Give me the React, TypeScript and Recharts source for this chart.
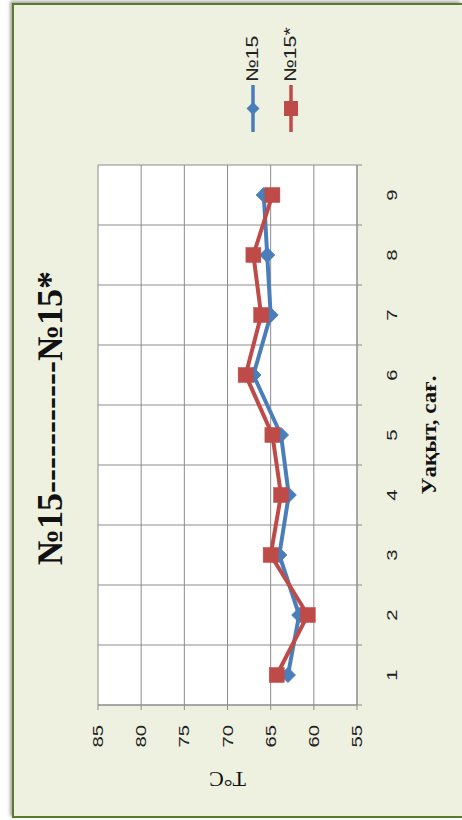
import React from 'react';
import { LineChart, Line, XAxis, YAxis, CartesianGrid, Legend, ReferenceLine } from 'recharts';

const hours = [1, 2, 3, 4, 5, 6, 7, 8, 9];
const hourEdges = [0.5, 1.5, 2.5, 3.5, 4.5, 5.5, 6.5, 7.5, 8.5, 9.5];
const series15 = [63.0, 61.7, 64.0, 62.9, 63.8, 67.0, 65.0, 65.4, 65.8];
const series15star = [64.3, 60.7, 65.0, 63.8, 64.8, 67.9, 66.1, 67.0, 64.8];
const tempTicks = [55, 60, 65, 70, 75, 80, 85];
const seriesNames = ['№15', '№15*'];
const titleText = '№15-----------№15*';
const xTitle = 'Уақыт, сағ.';
const yTitle = 'T°C';

const BLUE = '#4a7ebb';
const RED = '#be4b48';
const GRID = '#8c8c8c';
const TEXT = '#222';

const data = hours.map((h, i) => ({ h, a: series15[i], b: series15star[i] }));

const YTick = (p: any) => (
  <g transform={`translate(${p.x},${p.y}) scale(1.35,1)`}>
    <text textAnchor="end" dominantBaseline="central" fontSize={15} fontFamily="Liberation Sans" fill={TEXT}>
      {p.payload.value}
    </text>
  </g>
);

const XTick = (p: any) => (
  <g transform={`translate(${p.x},${p.y + 34}) scale(1.35,1)`}>
    <text textAnchor="middle" dominantBaseline="central" fontSize={15} fontFamily="Liberation Sans" fill={TEXT}>
      {p.payload.value}
    </text>
  </g>
);

const EmptyTick = () => <g />;

const XLabel = (p: any) => {
  const vb = p.viewBox || {};
  return (
    <g transform={`translate(${vb.x + vb.width / 2},${vb.y + 72}) scale(1.15,1)`}>
      <text textAnchor="middle" dominantBaseline="central" fontSize={20} fontWeight="bold" fontFamily="Liberation Serif" fill="#111">
        {xTitle}
      </text>
    </g>
  );
};

const YLabel = (p: any) => {
  const vb = p.viewBox || {};
  return (
    <g transform={`translate(${vb.x + 41},${vb.y + vb.height / 2}) rotate(-90)`}>
      <text textAnchor="middle" dominantBaseline="central" fontSize={22} fontFamily="Liberation Serif" fill="#111">
        {yTitle}
      </text>
    </g>
  );
};

const Diamond = (p: any) => {
  if (p.cx == null || p.cy == null) return <g key={p.index} />;
  const r = 7.5;
  return (
    <polygon
      key={p.index}
      points={`${p.cx},${p.cy - r} ${p.cx + r},${p.cy} ${p.cx},${p.cy + r} ${p.cx - r},${p.cy}`}
      fill={BLUE}
      stroke={BLUE}
    />
  );
};

const Square = (p: any) => {
  if (p.cx == null || p.cy == null) return <g key={p.index} />;
  const s = 15;
  return <rect key={p.index} x={p.cx - s / 2} y={p.cy - s / 2} width={s} height={s} fill={RED} stroke={RED} strokeWidth={0.5} />;
};

const renderLegend = (props: any) => {
  const payload = props.payload || [];
  return (
    <div>
      {payload.map((e: any, i: number) => (
        <div key={i} style={{ display: 'flex', alignItems: 'center', height: 38 }}>
          <svg width={47} height={18} style={{ display: 'block' }}>
            <line x1={0} y1={9} x2={47} y2={9} stroke={e.color} strokeWidth={3.5} />
            {i === 0 ? (
              <polygon points="23.5,2.5 30,9 23.5,15.5 17,9" fill={e.color} />
            ) : (
              <rect x={16} y={2} width={15} height={14} fill={e.color} />
            )}
          </svg>
          <span
            style={{
              display: 'inline-block',
              marginLeft: 3,
              fontFamily: 'Liberation Sans',
              fontSize: 17,
              color: TEXT,
              whiteSpace: 'nowrap',
              transform: 'scaleX(1.25)',
              transformOrigin: 'left center',
            }}
          >
            {e.value}
          </span>
        </div>
      ))}
    </div>
  );
};

export default function App() {
  return (
    <div style={{ position: 'fixed', left: 0, top: 0, width: 462, height: 820, overflow: 'hidden', background: '#fff' }}>
      <div
        style={{
          position: 'absolute',
          left: 12,
          top: 3,
          width: 450,
          height: 815,
          boxSizing: 'border-box',
          border: '2px solid #5a7a30',
          borderRight: 'none',
          background: '#eef0e0',
          boxShadow: '-2px -2px 3px rgba(0,0,0,0.35)',
        }}
      />
      <div
        style={{
          position: 'absolute',
          left: 0,
          top: 0,
          width: 820,
          height: 462,
          transformOrigin: '0 0',
          transform: 'translate(0px, 820px) rotate(-90deg)',
        }}
      >
        <div
          style={{
            position: 'absolute',
            left: -8,
            top: 28,
            width: 820,
            textAlign: 'center',
            fontFamily: 'Liberation Serif',
            fontWeight: 'bold',
            fontSize: 36,
            lineHeight: '44px',
            color: '#111',
            whiteSpace: 'nowrap',
          }}
        >
          {titleText}
        </div>
        <LineChart width={820} height={462} data={data} margin={{ top: 98, right: 165, bottom: 0, left: 0 }}>
          <CartesianGrid vertical={false} stroke={GRID} fill="#ffffff" />
          <XAxis
            xAxisId="edge"
            type="number"
            dataKey="h"
            domain={[0.5, 9.5]}
            ticks={hourEdges}
            tick={EmptyTick}
            tickSize={5}
            height={1}
            stroke={GRID}
          />
          <XAxis
            xAxisId="lab"
            type="number"
            dataKey="h"
            domain={[0.5, 9.5]}
            ticks={hours}
            tick={<XTick />}
            tickLine={false}
            axisLine={false}
            tickSize={0}
            tickMargin={0}
            height={104}
            label={<XLabel />}
          />
          <YAxis
            type="number"
            domain={[55, 85]}
            ticks={tempTicks}
            width={115}
            tickSize={5}
            tickMargin={15}
            stroke={GRID}
            tick={<YTick />}
            label={<YLabel />}
          />
          {hourEdges.map((e) => (
            <ReferenceLine key={e} xAxisId="edge" x={e} stroke={GRID} strokeWidth={1} />
          ))}
          <Legend
            layout="vertical"
            align="center"
            verticalAlign="middle"
            content={renderLegend}
            wrapperStyle={{ left: 688, top: 234, width: 130 }}
          />
          <Line
            xAxisId="lab"
            dataKey="a"
            name={seriesNames[0]}
            stroke={BLUE}
            strokeWidth={4}
            dot={Diamond}
            activeDot={false}
            isAnimationActive={false}
          />
          <Line
            xAxisId="lab"
            dataKey="b"
            name={seriesNames[1]}
            stroke={RED}
            strokeWidth={4}
            dot={Square}
            activeDot={false}
            isAnimationActive={false}
          />
        </LineChart>
      </div>
    </div>
  );
}
